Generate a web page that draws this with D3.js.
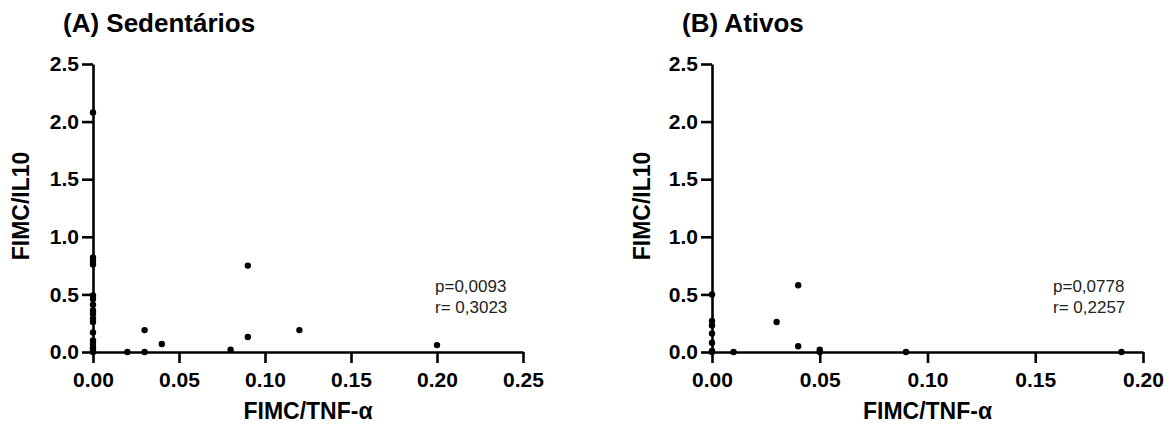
<!DOCTYPE html>
<html>
<head>
<meta charset="utf-8">
<script src="https://cdn.jsdelivr.net/npm/d3@7"></script>
<style>
    body { margin: 0; background: #fff; }
    svg { display: block; }
</style>
</head>
<body>
<svg id="chart" width="1176" height="426"></svg>
<script>
/* ============================================================
   Scatter plots: FIMC/IL10 vs FIMC/TNF-α
   ============================================================ */

// Panel A (Sedentários) - x = FIMC/TNF-α, y = FIMC/IL10
const sedX = [0, 0, 0, 0, 0, 0, 0, 0, 0, 0, 0, 0, 0, 0, 0, 0, 0,
              0.02, 0.03, 0.03, 0.04, 0.08, 0.09, 0.09, 0.12, 0.20];
const sedY = [2.08, 0.82, 0.79, 0.76, 0.49, 0.46, 0.41, 0.36, 0.33, 0.29, 0.26, 0.17, 0.10, 0.07, 0.04, 0.02, 0.0,
              0.0, 0.0, 0.19, 0.07, 0.02, 0.13, 0.75, 0.19, 0.06];

// Panel B (Ativos)
const atvX = [0, 0, 0, 0, 0, 0, 0,
              0.01, 0.03, 0.04, 0.04, 0.05, 0.05, 0.09, 0.19];
const atvY = [0.50, 0.27, 0.23, 0.16, 0.08, 0.01, 0.0,
              0.0, 0.26, 0.58, 0.05, 0.02, 0.0, 0.0, 0.0];

const yTicks = [0, 0.5, 1.0, 1.5, 2.0, 2.5];
const sedXTicks = [0, 0.05, 0.10, 0.15, 0.20, 0.25];
const atvXTicks = [0, 0.05, 0.10, 0.15, 0.20];

const titles = ['(A) Sedentários', '(B) Ativos'];
const stats = [['p=0,0093', 'r= 0,3023'], ['p=0,0778', 'r= 0,2257']];

const FONT = 'Liberation Sans, Arial, sans-serif';
const svg = d3.select('#chart');

/**
 * Draw one scatter panel
 */
function drawPanel(opts) {
    const g = svg.append('g');

    const x = d3.scaleLinear().domain(opts.xDomain).range([opts.left, opts.right]);
    const y = d3.scaleLinear().domain([0, 2.5]).range([352, 64]);

    // Y axis
    const yAxis = g.append('g')
        .attr('transform', `translate(${opts.left},0)`)
        .call(d3.axisLeft(y).tickValues(yTicks).tickFormat(d3.format('.1f'))
            .tickSize(11).tickPadding(3).tickSizeOuter(0));

    // X axis
    const xAxis = g.append('g')
        .attr('transform', `translate(0,352)`)
        .call(d3.axisBottom(x).tickValues(opts.xTicks).tickFormat(d3.format('.2f'))
            .tickSize(11).tickPadding(9).tickSizeOuter(0));

    [yAxis, xAxis].forEach(ax => {
        ax.selectAll('.domain, .tick line').attr('stroke', '#000').attr('stroke-width', 2.6);
        ax.selectAll('text')
            .attr('fill', '#000')
            .style('font-family', FONT)
            .style('font-weight', 'bold')
            .style('font-size', '21px');
    });

    // points
    g.selectAll('circle')
        .data(opts.xs.map((v, i) => ({ x: v, y: opts.ys[i] })))
        .enter()
        .append('circle')
        .attr('cx', d => x(d.x))
        .attr('cy', d => y(d.y))
        .attr('r', 3.2)
        .attr('fill', '#000');

    // Axis titles
    g.append('text')
        .attr('x', (opts.left + opts.right) / 2)
        .attr('y', 419)
        .attr('text-anchor', 'middle')
        .style('font-family', FONT)
        .style('font-weight', 'bold')
        .style('font-size', '23px')
        .text('FIMC/TNF-α');

    g.append('text')
        .attr('transform', `translate(${opts.yTitleX},206) rotate(-90)`)
        .attr('text-anchor', 'middle')
        .style('font-family', FONT)
        .style('font-weight', 'bold')
        .style('font-size', '23px')
        .text('FIMC/IL10');

    // Panel title
    g.append('text')
        .attr('x', opts.titleX)
        .attr('y', 32)
        .style('font-family', FONT)
        .style('font-weight', 'bold')
        .style('font-size', '26px')
        .text(opts.title);

    // Correlation stats
    opts.stats.forEach((s, i) => {
        g.append('text')
            .attr('x', opts.statX)
            .attr('y', 292 + i * 21)
            .style('font-family', FONT)
            .style('font-size', '17px')
            .attr('fill', '#222')
            .text(s);
    });
}

drawPanel({
    xs: sedX, ys: sedY, xDomain: [0, 0.25], xTicks: sedXTicks,
    left: 93, right: 523, yTitleX: 29, titleX: 63, statX: 435,
    title: titles[0], stats: stats[0]
});

drawPanel({
    xs: atvX, ys: atvY, xDomain: [0, 0.20], xTicks: atvXTicks,
    left: 712, right: 1143, yTitleX: 650, titleX: 682, statX: 1053,
    title: titles[1], stats: stats[1]
});
</script>
</body>
</html>
